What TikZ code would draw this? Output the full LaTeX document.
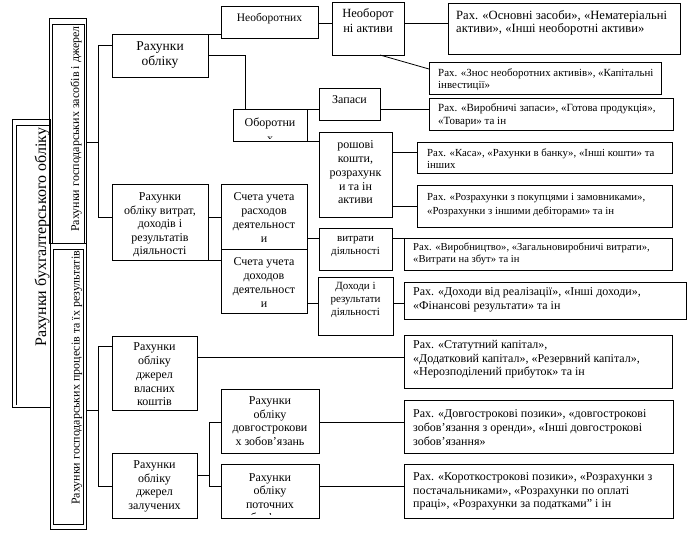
\documentclass[tikz,border=0pt]{standalone}
\usepackage{fontspec}
\setmainfont{Liberation Serif}
\newcommand\bx[5]{\node[box,minimum width={#4pt-#2pt},minimum height={#5pt-#3pt}] (#1) at ({(#2+#4)/2},{(#3+#5)/2}) {};}
\newcommand\tx[6][1]{\begin{scope}\clip ([xshift=1pt,yshift=-1pt]#2.north west) rectangle ([xshift=-1pt,yshift=#1pt]#2.south east);\node[#3] (#2t) at (#4,#5) {#6};\end{scope}}
\begin{document}
\begin{tikzpicture}[x=1pt,y=-1pt,
  box/.style={draw,line width=0.8pt,inner sep=0pt,outer sep=0pt},
  ln/.style={line width=0.8pt},
  ct/.style={inner sep=0pt,align=center},
  lt/.style={inner sep=0pt,align=left,anchor=west},
  rt/.style={inner sep=0pt,rotate=90,anchor=west}]
\useasboundingbox[fill=white] (0,0) rectangle (697,543);
% column 1
\bx{L1}{12}{119}{50}{407}
\draw[ln] ([xshift=4pt,yshift=2pt]L1.south west) |- ([yshift=-6pt]L1.north east);
\tx{L1}{rt,font=\fontsize{16}{16}\selectfont}{42}{347}{Рахунки бухгалтерського обліку}
% column 2
\bx{C2a}{49}{18}{86}{243}
\draw[ln] ([xshift=3pt]C2a.south west) |- ([xshift=-2pt,yshift=-6pt]C2a.north east) -- ([xshift=-2pt]C2a.south east);
\tx{C2a}{rt,font=\fontsize{12}{12}\selectfont}{76}{232}{Рахунки господарських засобів і джерел}
\bx{C2b}{50}{243}{86}{529}
\draw[ln] (53,249) rectangle (83,524);
\tx{C2b}{rt,font=\fontsize{12}{12}\selectfont}{77}{505}{Рахунки господарських процесів та їх результатів}
% column 3
\bx{ro}{112}{34}{208}{77}
\tx{ro}{ct,font=\fontsize{13.5}{15}\selectfont}{160}{55.5}{Рахунки\\обліку}
\bx{rv}{112}{184}{208}{260}
\tx{rv}{ct,font=\fontsize{12}{13.5}\selectfont}{160}{225}{Рахунки\\обліку витрат,\\доходів і\\результатів\\діяльності}
\bx{rvk}{112}{336}{197}{410}
\tx[5]{rvk}{ct,font=\fontsize{12}{13.8}\selectfont}{154.5}{374.5}{Рахунки\\обліку\\джерел\\власних\\коштів}
\bx{rz}{112}{453}{197}{518}
\tx{rz}{ct,font=\fontsize{12}{13.7}\selectfont}{154.5}{486.5}{Рахунки\\обліку\\джерел\\залучених}
% column 4
\bx{neob}{221}{6}{318}{38}
\tx{neob}{ct,font=\fontsize{11.5}{13}\selectfont}{269.5}{19}{Необоротних}
\bx{ob}{233}{109}{307}{141}
\tx[2]{ob}{ct,font=\fontsize{12}{16}\selectfont}{270}{130}{Оборотни\\х}
\bx{sr}{221}{184}{307}{249}
\tx{sr}{ct,font=\fontsize{12}{14}\selectfont}{264}{218}{Счета учета\\расходов\\деятельност\\и}
\bx{sd}{221}{249}{307}{313}
\tx{sd}{ct,font=\fontsize{12}{13.7}\selectfont}{264}{282.5}{Счета учета\\доходов\\деятельност\\и}
\bx{dz}{221}{389}{319}{453}
\tx{dz}{ct,font=\fontsize{12}{13.7}\selectfont}{270}{421}{Рахунки\\обліку\\довгострокови\\х зобов'язань}
\bx{pt}{221}{464}{319}{518}
\tx[4]{pt}{ct,font=\fontsize{12}{13.5}\selectfont}{270}{497.8}{Рахунки\\обліку\\поточних\\зобов'язань}
% column 5
\bx{na}{332}{2}{404}{55}
\tx{na}{ct,font=\fontsize{12.5}{15}\selectfont}{368}{21}{Необорот\\ні активи}
\bx{zap}{319}{88}{380}{120}
\tx{zap}{ct,font=\fontsize{12}{14}\selectfont}{349.5}{100}{Запаси}
\bx{gr}{319}{132}{392}{217}
\tx{gr}{ct,font=\fontsize{12}{13.75}\selectfont}{355.5}{172.5}{рошові\\кошти,\\розрахунк\\и та ін\\активи}
\bx{vd}{319}{228}{392}{270}
\tx{vd}{ct,font=\fontsize{11}{13}\selectfont}{355.5}{246.5}{витрати\\діяльності}
\bx{dr}{318}{277}{393}{335}
\tx{dr}{ct,font=\fontsize{11}{13}\selectfont}{355.5}{300}{Доходи і\\результати\\діяльності}
% column 6
\bx{os}{448}{3}{680}{54}
\tx{os}{lt,font=\fontsize{12.6}{13.2}\selectfont}{456}{22.5}{Рах. «Основні засоби», «Нематеріальні\\активи», «Інші необоротні активи»}
\bx{zn}{429}{62}{661}{94}
\tx{zn}{lt,font=\fontsize{10.9}{12}\selectfont}{438}{80}{Рах. «Знос необоротних активів», «Капітальні\\інвестиції»}
\bx{vz}{429}{98}{673}{130}
\tx{vz}{lt,font=\fontsize{11}{13}\selectfont}{438}{115.5}{Рах. «Виробничі запаси», «Готова продукція»,\\«Товари» та ін}
\bx{ks}{417}{142}{672}{173}
\tx{ks}{lt,font=\fontsize{10.8}{11.5}\selectfont}{427}{158.5}{Рах. «Каса», «Рахунки в банку», «Інші кошти» та\\інших}
\bx{pk}{417}{185}{672}{227}
\tx{pk}{lt,font=\fontsize{10.8}{14}\selectfont}{427}{205}{Рах. «Розрахунки з покупцями і замовниками»,\\«Розрахунки з іншими дебіторами» та ін}
\bx{vb}{404}{238}{672}{270}
\tx{vb}{lt,font=\fontsize{10.6}{12}\selectfont}{413}{254}{Рах. «Виробництво», «Загальновиробничі витрати»,\\«Витрати на збут» та ін}
\bx{dv}{404}{282}{686}{319}
\tx{dv}{lt,font=\fontsize{12}{14}\selectfont}{413}{300}{Рах. «Доходи від реалізації», «Інші доходи»,\\«Фінансові результати» та ін}
\bx{st}{404}{335}{672}{388}
\tx{st}{lt,font=\fontsize{12}{13.5}\selectfont}{413}{359.5}{Рах. «Статутний капітал»,\\«Додатковий капітал», «Резервний капітал»,\\«Нерозподілений прибуток» та ін}
\bx{dp}{404}{400}{673}{453}
\tx{dp}{lt,font=\fontsize{12}{14}\selectfont}{413}{427.3}{Рах. «Довгострокові позики», «довгострокові\\зобов'язання з оренди», «Інші довгострокові\\зобов'язання»}
\bx{kp}{404}{464}{673}{518}
\tx{kp}{lt,font=\fontsize{12}{13.5}\selectfont}{413}{491.5}{Рах. «Короткострокові позики», «Розрахунки з\\постачальниками», «Розрахунки по оплаті\\праці», «Розрахунки за податками" і ін}
% connectors
\coordinate (b1a) at (98,45); \coordinate (b1b) at (98,217); \coordinate (b1c) at (98,142);
\draw[ln] (ro.west |- b1a) -- (b1a) -- (b1b) -- (rv.west |- b1b);
\draw[ln] (C2a.east |- b1c) -- (b1c);
\coordinate (b2a) at (98,346); \coordinate (b2b) at (98,486); \coordinate (b2c) at (98,410);
\draw[ln] (rvk.west |- b2a) -- (b2a) -- (b2b) -- (rz.west |- b2b);
\draw[ln] (C2b.east |- b2c) -- (b2c);
\draw[ln] (ro.north east) -- (neob.west |- ro.north east);
\coordinate (k1) at (245,55);
\draw[ln] (ro.east |- k1) -- (k1) -- (ob.north -| k1);
\coordinate (k2) at (0,23);
\draw[ln] (neob.east |- k2) -- (na.west |- k2);
\draw[ln] (na.east |- k2) -- (os.west |- k2);
\draw[ln] (na.south -| 380,0) -- (zn.west |- 0,69);
\draw[ln] (ob.north east) -- (zap.west |- ob.north east);
\draw[ln] (zap.east |- ob.north east) -- (vz.west |- ob.north east);
\draw[ln] (ob.south east) -- (gr.west |- ob.south east);
\draw[ln] (gr.east |- 0,152) -- (ks.west |- 0,152);
\draw[ln] (gr.east |- 0,206) -- (pk.west |- 0,206);
\draw[ln] (rv.east |- 0,217) -- (sr.west |- 0,217);
\draw[ln] (rv.south east) -- (sd.west |- rv.south east);
\draw[ln] (sr.east |- 0,238) -- (vd.west |- 0,238);
\draw[ln] (vd.east |- 0,238) -- (vb.west |- 0,238);
\draw[ln] (sd.east |- 0,303) -- (dr.west |- 0,303);
\draw[ln] (dr.east |- 0,303) -- (dv.west |- 0,303);
\draw[ln] (rvk.east |- 0,357) -- (st.west |- 0,357);
\coordinate (b3a) at (209,422); \coordinate (b3b) at (209,486); \coordinate (b3c) at (209,475);
\draw[ln] (rz.east |- b3c) -- (b3c);
\draw[ln] (dz.west |- b3a) -- (b3a) -- (b3b) -- (pt.west |- b3b);
\draw[ln] (dz.east |- b3a) -- (dp.west |- b3a);
\draw[ln] (pt.east |- b3b) -- (kp.west |- b3b);
\end{tikzpicture}
\end{document}
